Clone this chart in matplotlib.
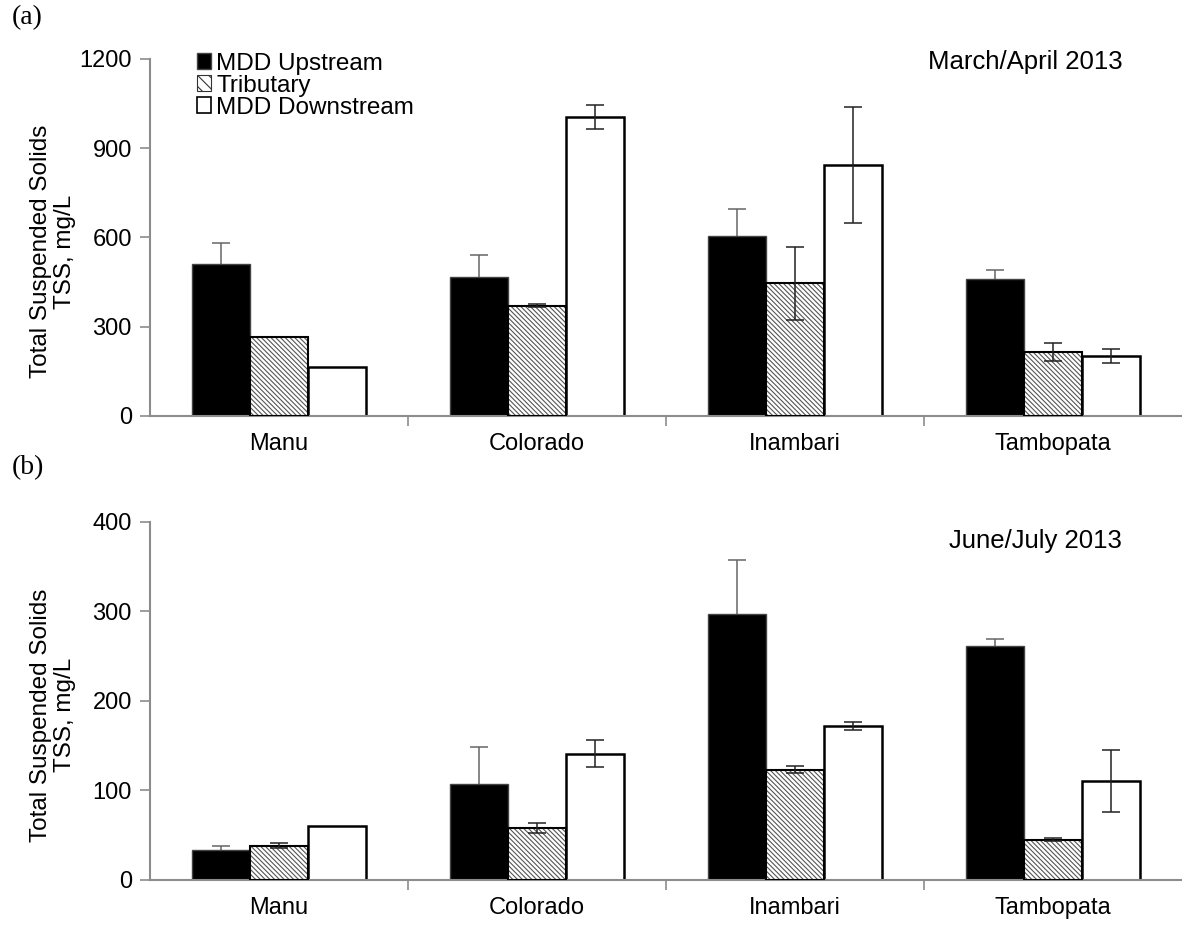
import numpy as np
import matplotlib.pyplot as plt

plt.rcParams['font.family'] = ['Liberation Sans', 'DejaVu Sans']
plt.rcParams['hatch.linewidth'] = 0.8

rivers = ['Manu', 'Colorado', 'Inambari', 'Tambopata']
series = ['MDD Upstream', 'Tributary', 'MDD Downstream']

# March/April 2013
up_a = [512, 467, 606, 462]
up_a_err = [68, 73, 89, 30]
trib_a = [265, 370, 446, 216]
trib_a_err = [0, 5, 122, 30]
down_a = [165, 1005, 844, 202]
down_a_err = [0, 40, 195, 23]

# June/July 2013
up_b = [33.5, 107, 297, 261]
up_b_err = [4.5, 42, 61, 8]
trib_b = [38.5, 58, 123, 45]
trib_b_err = [3, 6, 4, 1.5]
down_b = [60, 141, 172, 110.5]
down_b_err = [0, 15, 4, 35]

GREY = '#8c8c8c'
HATCH = '\\' * 7


def add_err(ax, xs, ys, errs, color, z):
    xs, ys, errs = np.asarray(xs), np.asarray(ys), np.asarray(errs)
    keep = errs > 0
    ax.errorbar(xs[keep], ys[keep], yerr=errs[keep], fmt='none', ecolor=color,
                capsize=6.5, elinewidth=1.1, capthick=1.1, zorder=z)


def draw_panel(ax, up, up_err, trib, trib_err, down, down_err, ymax, step,
               season, season_y):
    x = np.arange(len(rivers)) + 0.5
    w = 0.225
    ax.bar(x - w, up, w, color='black', edgecolor='#444444', linewidth=1.0,
           label=series[0], zorder=2)
    ax.bar(x, trib, w, color='white', edgecolor='#555555', hatch=HATCH,
           linewidth=0, zorder=2)
    ax.bar(x, trib, w, fill=False, edgecolor='black', linewidth=1.5, zorder=3)
    ax.bar(x + w, down, w, color='white', edgecolor='black', linewidth=1.8,
           zorder=2)
    # proxy handles for legend
    ax.bar([0], [0], 0, color='white', edgecolor='#333333', hatch='\\\\\\',
           linewidth=0.8, label=series[1])
    ax.bar([0], [0], 0, color='white', edgecolor='black', linewidth=1.2,
           label=series[2])

    # upstream bars hide the lower half of their error bars
    add_err(ax, x - w, up, up_err, '#666666', 1)
    add_err(ax, x, trib, trib_err, '#222222', 4)
    add_err(ax, x + w, down, down_err, '#222222', 4)

    ax.set_xlim(0, 4)
    ax.set_ylim(0, ymax)
    ax.set_yticks(np.arange(0, ymax + 1, step))
    ax.set_xticks(x)
    ax.set_xticklabels(rivers)
    ax.set_xticks([1, 2, 3], minor=True)
    ax.tick_params(axis='x', which='major', length=0, pad=12, labelsize=17)
    ax.tick_params(axis='x', which='minor', length=7, width=1.2, color=GREY)
    ax.tick_params(axis='y', length=7, width=1.2, color=GREY, labelsize=17,
                   pad=6)
    for s in ['top', 'right']:
        ax.spines[s].set_visible(False)
    for s in ['left', 'bottom']:
        ax.spines[s].set_color(GREY)
        ax.spines[s].set_linewidth(1.5)
    ax.set_ylabel('Total Suspended Solids\nTSS, mg/L', fontsize=17.5,
                  linespacing=1.1, labelpad=5)
    ax.yaxis.set_label_coords(-0.072, 0.46)
    ax.text(0.942, season_y, season, transform=ax.transAxes, ha='right',
            va='top', fontsize=18.5)


fig = plt.figure(figsize=(11.82, 9.26), dpi=100)
ax1 = fig.add_axes([0.1269, 0.5508, 0.8731, 0.3855])
ax2 = fig.add_axes([0.1269, 0.0497, 0.8731, 0.3866])

draw_panel(ax1, up_a, up_a_err, trib_a, trib_a_err, down_a, down_a_err,
           1200, 300, 'March/April 2013', 1.025)
draw_panel(ax2, up_b, up_b_err, trib_b, trib_b_err, down_b, down_b_err,
           400, 100, 'June/July 2013', 0.98)

ax1.legend(loc='upper left', bbox_to_anchor=(0.036, 1.045), frameon=False,
           fontsize=17.5, handlelength=0.6, handleheight=0.6,
           handletextpad=0.2, labelspacing=0.0, borderaxespad=0)

fig.text(0.01, 0.995, '(a)', family='Liberation Serif', fontsize=20, va='top')
fig.text(0.01, 0.508, '(b)', family='Liberation Serif', fontsize=20, va='top')

fig.savefig('out.png', dpi=100)
